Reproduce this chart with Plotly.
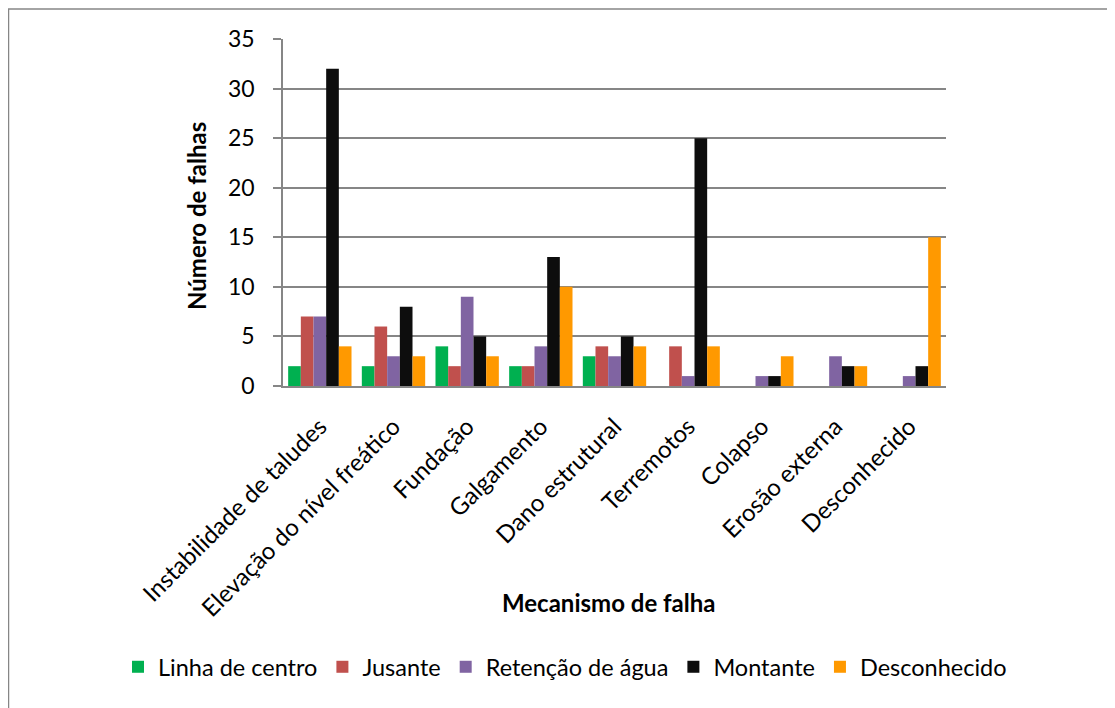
import plotly.graph_objects as go

categories = ["Instabilidade de taludes", "Elevação do nível freático", "Fundação",
              "Galgamento", "Dano estrutural", "Terremotos", "Colapso",
              "Erosão externa", "Desconhecido"]
linha_de_centro = [2, 2, 4, 2, 3, 0, 0, 0, 0]
jusante = [7, 6, 2, 2, 4, 4, 0, 0, 0]
retencao_de_agua = [7, 3, 9, 4, 3, 1, 1, 3, 1]
montante = [32, 8, 5, 13, 5, 25, 1, 2, 2]
desconhecido = [4, 3, 3, 10, 4, 4, 3, 2, 15]
y_ticks = [0, 5, 10, 15, 20, 25, 30, 35]

series = [
    ("Linha de centro", linha_de_centro, "#00B050"),
    ("Jusante", jusante, "#C0504D"),
    ("Retenção de água", retencao_de_agua, "#8064A2"),
    ("Montante", montante, "#0D0D0D"),
    ("Desconhecido", desconhecido, "#FF9900"),
]

FONT = "Lato"
W, H = 1107, 700
L, R, T, B = 275, 169, 31, 322
PW, PH = W - L - R, H - T - B

fig = go.Figure()
for name, vals, color in series:
    fig.add_trace(go.Bar(x=categories, y=vals, name=name,
                         marker=dict(color=color, line=dict(width=0))))

fig.update_layout(
    width=W, height=H,
    margin=dict(l=L, r=R, t=T, b=B),
    paper_bgcolor="white", plot_bgcolor="white",
    font=dict(family=FONT, size=22, color="black"),
    barmode="group", bargap=0.14, bargroupgap=0,
    showlegend=True,
    legend=dict(orientation="h", x=(110 - L) / PW, xanchor="left",
                y=(378 - 659) / PH, yanchor="middle",
                font=dict(family=FONT, size=23.5), itemwidth=30, tracegroupgap=0,
                traceorder="normal"),
    xaxis=dict(tickangle=-45, showline=True, linecolor="#868686", linewidth=2,
               ticks="", tickfont=dict(family=FONT, size=24), ticklabelstandoff=15),
    yaxis=dict(range=[0, 35], tickvals=y_ticks, showgrid=True, gridcolor="#868686",
               gridwidth=1.5, showline=True, linecolor="#868686", linewidth=1.5,
               ticks="outside", ticklen=8, tickcolor="#868686", tickwidth=1.5,
               tickfont=dict(family=FONT, size=23), zeroline=False,
               ticklabelstandoff=14),
    annotations=[
        dict(text="<b>Número de falhas</b>", xref="paper", yref="paper",
             x=(188 - L) / PW, y=(378 - 208) / PH, textangle=-90, showarrow=False,
             xanchor="center", yanchor="middle", font=dict(family=FONT, size=24)),
        dict(text="<b>Mecanismo de falha</b>", xref="paper", yref="paper",
             x=(600 - L) / PW, y=(378 - 594) / PH, showarrow=False,
             xanchor="center", yanchor="middle", font=dict(family=FONT, size=24)),
    ],
    shapes=[
        dict(type="rect", xref="paper", yref="paper",
             x0=(0.5 - L) / PW, x1=(1130 - L) / PW,
             y0=(378 - 730) / PH, y1=(378 - 1) / PH,
             line=dict(color="#868686", width=1.5), layer="below"),
    ],
)

fig.write_html("out.html")
